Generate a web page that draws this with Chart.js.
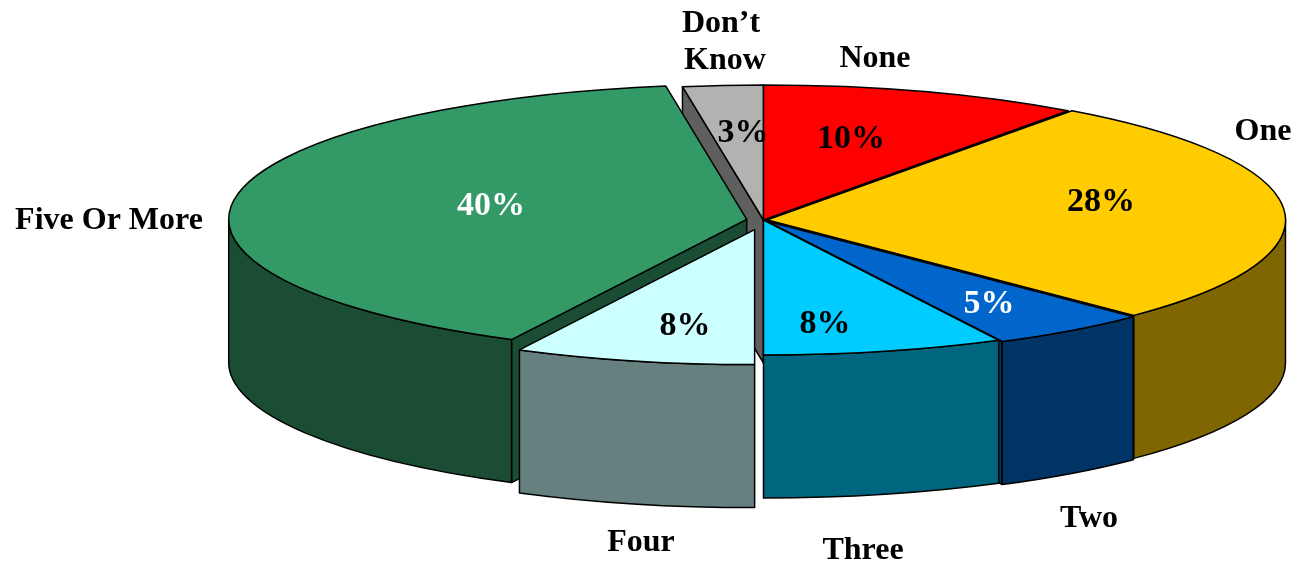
<!DOCTYPE html>
<html>
<head>
<meta charset="utf-8">
<style>
html, body { margin: 0; padding: 0; background: #fff; }
canvas { display: block; }
</style>
<script src="https://cdn.jsdelivr.net/npm/chart.js@4/dist/chart.umd.min.js"></script>
</head>
<body>
<canvas id="pie" width="1295" height="565"></canvas>
<script>
// slice order runs clockwise from 12 o'clock
const categories = ['None', 'One', 'Two', 'Three', 'Four', 'Five Or More', "Don\u2019t Know"];
const shares = [10, 27.5, 5, 7.5, 7.5, 40, 2.5];
const topColors = ['#FF0000', '#FFCC00', '#0066CC', '#00CCFF', '#CCFFFF', '#339966', '#B2B2B2'];
const sideColors = ['#800000', '#806600', '#003366', '#006680', '#668080', '#1A4D33', '#5F5F5F'];
const percentColors = ['#000', '#000', '#fff', '#000', '#000', '#fff', '#000'];
// how far each slice is pulled out of the pie
const explode = [0, 4, 6, 0, 38, 17, 0];

const tilt = 0.2606;
const depth = 143;
const NAME_FONT = 'bold 32px "Liberation Serif", "Times New Roman", serif';
const PERCENT_FONT = 'bold 34px "Liberation Serif", "Times New Roman", serif';

// text anchors (centre of the text)
const percentSpots = [[851, 139], [1101, 202], [989, 304], [825, 324], [685, 326], [491, 206], [743, 133]];
const nameSpots = [
    [['None', 875, 59]],
    [['One', 1263, 132]],
    [['Two', 1089, 519]],
    [['Three', 863, 551]],
    [['Four', 641, 543]],
    [['Five Or More', 109, 221]],
    [['Don\u2019t', 721, 24], ['Know', 725, 61]]
];

function sliceGeometry(arc) {
    const mid = (arc.startAngle + arc.endAngle) / 2;
    const d = arc.options.offset || 0;
    return {
        x: arc.x + Math.cos(mid) * d,
        y: arc.y + Math.sin(mid) * d * tilt,
        r: arc.outerRadius,
        a0: arc.startAngle,
        a1: arc.endAngle
    };
}

function radialFace(ctx, g, angle, color) {
    const rimX = g.x + Math.cos(angle) * g.r;
    const rimY = g.y + Math.sin(angle) * g.r * tilt;
    ctx.beginPath();
    ctx.moveTo(g.x, g.y);
    ctx.lineTo(rimX, rimY);
    ctx.lineTo(rimX, rimY + depth);
    ctx.lineTo(g.x, g.y + depth);
    ctx.closePath();
    ctx.fillStyle = color;
    ctx.fill();
    ctx.stroke();
}

function outerWall(ctx, g, color) {
    // only the front half of the rim can be seen
    const from = Math.max(g.a0, 0);
    const to = Math.min(g.a1, Math.PI);
    if (to <= from) return;
    ctx.beginPath();
    ctx.ellipse(g.x, g.y, g.r, g.r * tilt, 0, from, to);
    ctx.ellipse(g.x, g.y + depth, g.r, g.r * tilt, 0, to, from, true);
    ctx.closePath();
    ctx.fillStyle = color;
    ctx.fill();
    ctx.stroke();
}

function topFace(ctx, g, color) {
    ctx.beginPath();
    ctx.moveTo(g.x, g.y);
    ctx.ellipse(g.x, g.y, g.r, g.r * tilt, 0, g.a0, g.a1);
    ctx.closePath();
    ctx.fillStyle = color;
    ctx.fill();
    ctx.stroke();
}

const pie3d = {
    id: 'pie3d',
    beforeDatasetsDraw(chart) {
        const ctx = chart.ctx;
        const arcs = chart.getDatasetMeta(0).data;
        // back to front, by where the middle of each rim lands on screen
        const order = arcs.map((arc, i) => ({ i, g: sliceGeometry(arc) }))
            .sort((p, q) => {
                const py = p.g.y + Math.sin((p.g.a0 + p.g.a1) / 2) * p.g.r * tilt;
                const qy = q.g.y + Math.sin((q.g.a0 + q.g.a1) / 2) * q.g.r * tilt;
                return py - qy;
            });

        ctx.save();
        ctx.lineWidth = 1.5;
        ctx.strokeStyle = '#000';
        ctx.lineJoin = 'round';
        order.forEach(({ i, g }) => {
            if (-Math.cos(g.a0) > 1e-6) radialFace(ctx, g, g.a0, sideColors[i]);
            if (Math.cos(g.a1) > 1e-6) radialFace(ctx, g, g.a1, sideColors[i]);
            outerWall(ctx, g, sideColors[i]);
            topFace(ctx, g, topColors[i]);
        });

        ctx.textAlign = 'center';
        ctx.textBaseline = 'middle';
        shares.forEach((v, i) => {
            ctx.font = PERCENT_FONT;
            ctx.fillStyle = percentColors[i];
            ctx.fillText(Math.round(v) + '%', percentSpots[i][0], percentSpots[i][1]);
            ctx.font = NAME_FONT;
            ctx.fillStyle = '#000';
            nameSpots[i].forEach(n => ctx.fillText(n[0], n[1], n[2]));
        });
        ctx.restore();
        return false;
    }
};

new Chart(document.getElementById('pie').getContext('2d'), {
    type: 'pie',
    plugins: [pie3d],
    data: {
        labels: categories,
        datasets: [{
            data: shares,
            backgroundColor: topColors,
            offset: explode,
            borderWidth: 0
        }]
    },
    options: {
        responsive: false,
        animation: false,
        radius: 518,
        layout: { padding: { left: 232, bottom: 125 } },
        plugins: { legend: { display: false }, tooltip: { enabled: false } }
    }
});
</script>
</body>
</html>
